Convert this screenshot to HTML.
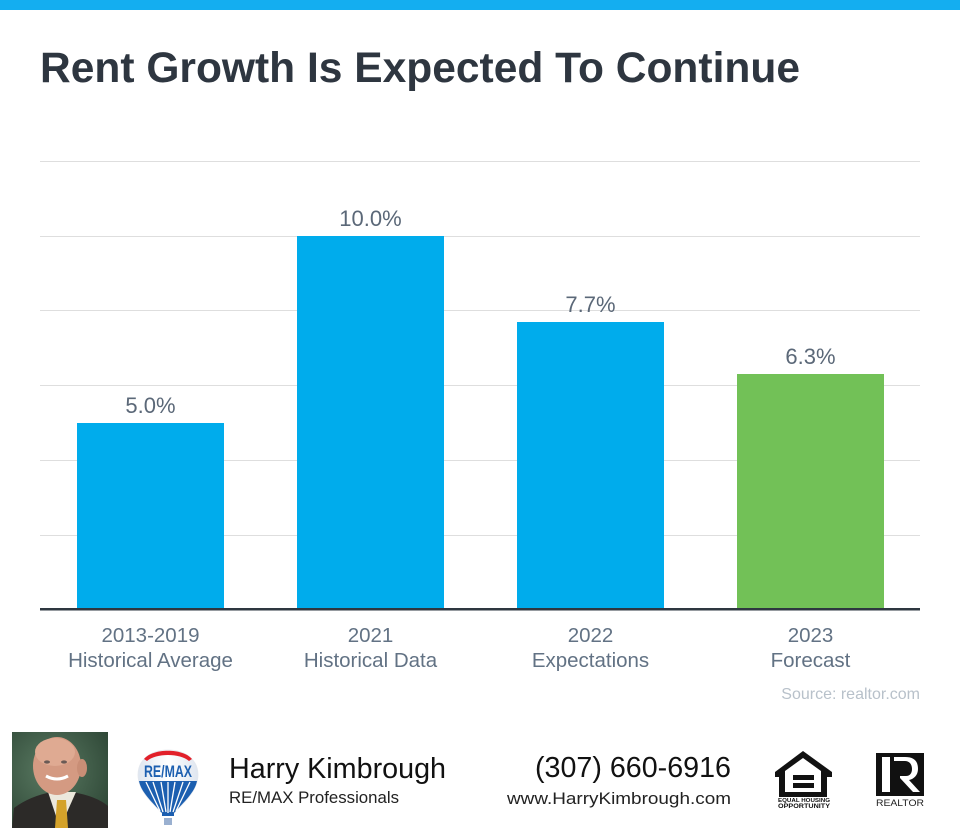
<!DOCTYPE html>
<html><head><meta charset="utf-8"><style>
html,body{margin:0;padding:0;background:#fff;}
svg{display:block;}
text{font-family:"Liberation Sans",Arial,sans-serif;}
</style></head><body>
<svg width="960" height="840" viewBox="0 0 960 840" xmlns="http://www.w3.org/2000/svg">
<rect x="0" y="0" width="960" height="840" fill="#fff"/>
<rect x="0" y="0" width="960" height="10" fill="#14aef0"/>
<text x="40" y="82" font-size="43" font-weight="bold" fill="#2e3640" textLength="760" lengthAdjust="spacingAndGlyphs">Rent Growth Is Expected To Continue</text>
<g stroke="#dedede" stroke-width="1">
<line x1="40" y1="161.5" x2="920" y2="161.5"/>
<line x1="40" y1="236.5" x2="920" y2="236.5"/>
<line x1="40" y1="310.5" x2="920" y2="310.5"/>
<line x1="40" y1="385.5" x2="920" y2="385.5"/>
<line x1="40" y1="460.5" x2="920" y2="460.5"/>
<line x1="40" y1="535.5" x2="920" y2="535.5"/>
</g>
<rect x="77" y="423" width="147" height="186" fill="#00acec"/>
<rect x="297" y="236" width="147" height="373" fill="#00acec"/>
<rect x="517" y="322" width="147" height="287" fill="#00acec"/>
<rect x="737" y="374" width="147" height="235" fill="#72c157"/>
<rect x="40" y="608" width="880" height="2.5" fill="#2e3740"/>
<g font-size="22" fill="#5b6878" text-anchor="middle">
<text x="150.5" y="413">5.0%</text>
<text x="370.5" y="226">10.0%</text>
<text x="590.5" y="312">7.7%</text>
<text x="810.5" y="364">6.3%</text>
</g>
<g font-size="20.5" fill="#627284" text-anchor="middle">
<text x="150.5" y="642">2013-2019</text>
<text x="150.5" y="667">Historical Average</text>
<text x="370.5" y="642">2021</text>
<text x="370.5" y="667">Historical Data</text>
<text x="590.5" y="642">2022</text>
<text x="590.5" y="667">Expectations</text>
<text x="810.5" y="642">2023</text>
<text x="810.5" y="667">Forecast</text>
</g>
<text x="920" y="699" font-size="16" fill="#b8c1ca" text-anchor="end">Source: realtor.com</text>

<defs>
<radialGradient id="bg" cx="0.4" cy="0.4" r="0.8">
<stop offset="0" stop-color="#5a7a62"/>
<stop offset="1" stop-color="#2a4232"/>
</radialGradient>
<clipPath id="pc"><rect x="12" y="732" width="96" height="96"/></clipPath>
<linearGradient id="bl" x1="0" y1="0" x2="1" y2="0">
<stop offset="0" stop-color="#dfe6f0"/>
<stop offset="0.5" stop-color="#fff"/>
<stop offset="1" stop-color="#dfe6f0"/>
</linearGradient>
</defs>
<g clip-path="url(#pc)">
<rect x="12" y="732" width="96" height="96" fill="url(#bg)"/>
<path d="M12 828 L14 808 Q30 796 52 792 L72 792 Q96 796 108 806 L108 828 Z" fill="#2c2a28"/>
<path d="M48 792 L60 828 L76 792 Z" fill="#ece8dc"/>
<path d="M57 800 L66 800 L68 828 L55 828 Z" fill="#d4a22a"/>
<ellipse cx="57" cy="766" rx="24" ry="29" fill="#d49a82"/>
<ellipse cx="55" cy="752" rx="20" ry="14" fill="#dfaa92"/>
<ellipse cx="82" cy="768" rx="5" ry="9" fill="#c98e76"/>
<path d="M46 776 Q57 782 68 776" stroke="#fff" stroke-width="3" fill="none"/>
<ellipse cx="47" cy="762" rx="3" ry="1.6" fill="#6a5a55"/>
<ellipse cx="64" cy="762" rx="3" ry="1.6" fill="#6a5a55"/>
</g>

<!-- balloon -->
<path d="M168 750 C150 750 138 760 138 775 C138 790 152 803 162 813 L174 813 C184 803 198 790 198 775 C198 760 186 750 168 750 Z" fill="url(#bl)" stroke="#e4e8ee" stroke-width="0.8"/>
<path d="M144 759 C153 748 183 748 192 759 L189 761 C180 753 156 753 147 761 Z" fill="#e2202a"/>
<path d="M139 781 L197 781 C195 792 184 802 174 813 L162 813 C152 802 141 792 139 781 Z" fill="#1c5fb0"/>
<g stroke="#fff" stroke-width="1.3">
<line x1="146" y1="782" x2="160" y2="811"/>
<line x1="153" y1="782" x2="163" y2="812"/>
<line x1="161" y1="782" x2="166" y2="812"/>
<line x1="168" y1="782" x2="168" y2="813"/>
<line x1="175" y1="782" x2="170" y2="812"/>
<line x1="183" y1="782" x2="173" y2="812"/>
<line x1="190" y1="782" x2="176" y2="811"/>
</g>
<text x="168" y="777" font-size="17" font-weight="bold" fill="#1c5fb0" text-anchor="middle" textLength="48" lengthAdjust="spacingAndGlyphs">RE/MAX</text>
<rect x="162" y="813" width="12" height="3" fill="#1c5fb0"/>
<rect x="164" y="818" width="8" height="7" fill="#9ab0d0"/>

<text x="229" y="778" font-size="28.5" fill="#111" textLength="217" lengthAdjust="spacingAndGlyphs">Harry Kimbrough</text>
<text x="229" y="803" font-size="16.5" fill="#222" textLength="170" lengthAdjust="spacingAndGlyphs">RE/MAX Professionals</text>
<text x="731" y="777" font-size="28.5" fill="#111" text-anchor="end" textLength="196" lengthAdjust="spacingAndGlyphs">(307) 660-6916</text>
<text x="731" y="804" font-size="17" fill="#222" text-anchor="end" textLength="224" lengthAdjust="spacingAndGlyphs">www.HarryKimbrough.com</text>

<path d="M803 751 L775 772 L775 777 L779 777 L779 797 L827 797 L827 777 L832 777 L832 772 Z M803 758 L821 771 L821 792 L785 792 L785 771 Z" fill="#111" fill-rule="evenodd"/>
<rect x="793" y="775" width="21" height="5" fill="#111"/>
<rect x="793" y="783" width="21" height="5" fill="#111"/>
<text x="804" y="802" font-size="5.5" font-weight="bold" fill="#111" text-anchor="middle" textLength="52" lengthAdjust="spacingAndGlyphs">EQUAL HOUSING</text>
<text x="804" y="808" font-size="6" font-weight="bold" fill="#111" text-anchor="middle" textLength="52" lengthAdjust="spacingAndGlyphs">OPPORTUNITY</text>

<rect x="876" y="753" width="48" height="43" fill="#111"/>
<rect x="882" y="757" width="8" height="35" fill="#fff"/>
<path d="M894 757 L905 757 C915 757 918 762 918 769 C918 775 914 779 909 780 L920 792 L913 792 L900 778 L900 776 L906 776 C910 776 912 773 912 769 C912 764 909 761 905 761 L894 761 Z" fill="#fff"/>
<text x="900" y="806" font-size="9" fill="#222" text-anchor="middle" textLength="48" lengthAdjust="spacingAndGlyphs">REALTOR</text>
</svg>
</body></html>
